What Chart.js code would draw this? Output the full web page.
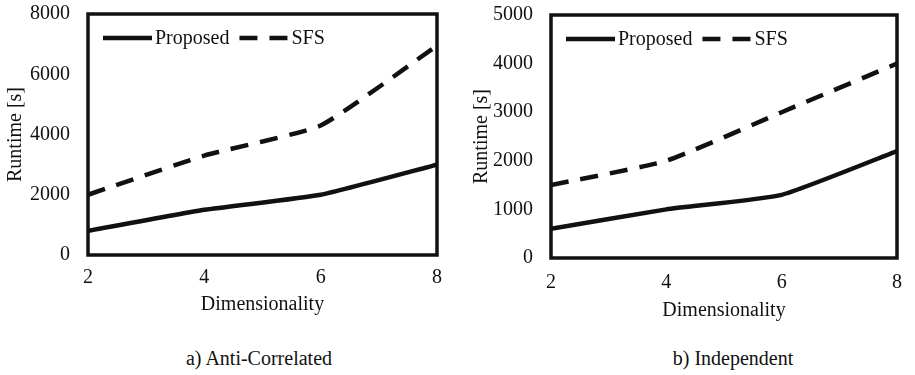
<!DOCTYPE html>
<html>
<head>
<meta charset="utf-8">
<script src="https://cdn.jsdelivr.net/npm/chart.js@4"></script>
<style>
html,body{margin:0;padding:0;background:#fff;width:915px;height:375px;overflow:hidden;}
canvas{position:absolute;top:0;}
.cap{position:absolute;font-family:'Liberation Serif',serif;font-size:20px;color:#111;white-space:nowrap;transform:translate(-50%,-50%);}
</style>
</head>
<body>
<canvas id="c1" width="458" height="321" style="left:0px"></canvas>
<canvas id="c2" width="449" height="327" style="left:466px"></canvas>
<div class="cap" style="left:259px;top:358px">a) Anti-Correlated</div>
<div class="cap" style="left:733px;top:358px">b) Independent</div>
<script>
const dims = [2, 4, 6, 8];
const antiProposed = [800, 1500, 2000, 3000];
const antiSFS = [2000, 3300, 4300, 6950];
const indepProposed = [600, 1000, 1300, 2200];
const indepSFS = [1500, 2000, 3000, 4000];
const seriesNames = ['Proposed', 'SFS'];
const xTitle = 'Dimensionality';
const yTitle = 'Runtime [s]';

const FONT = "'Liberation Serif', serif";
const FS = 20;
const TXT = '#111';

const boxPlugin = {
  id: 'box',
  afterDatasetsDraw(chart) {
    const a = chart.chartArea, ctx = chart.ctx;
    ctx.save();
    ctx.strokeStyle = '#111';
    ctx.lineWidth = 3.5;
    ctx.setLineDash([]);
    ctx.strokeRect(a.left, a.top, a.right - a.left, a.bottom - a.top);
    // inner legend, horizontal, drawn from the datasets
    const y = a.top + 24;
    let x = a.left + 15;
    ctx.font = FS + 'px ' + FONT;
    ctx.textBaseline = 'middle';
    ctx.textAlign = 'left';
    chart.data.datasets.forEach(ds => {
      ctx.strokeStyle = ds.borderColor;
      ctx.lineWidth = ds.borderWidth;
      ctx.setLineDash(ds.borderDash || []);
      ctx.beginPath();
      ctx.moveTo(x, y);
      ctx.lineTo(x + 49, y);
      ctx.stroke();
      x += 52;
      ctx.fillStyle = TXT;
      ctx.fillText(ds.label, x, y + 1);
      x += ctx.measureText(ds.label).width + 10;
    });
    ctx.restore();
  }
};

function pts(vals) { return dims.map((d, i) => ({x: d, y: vals[i]})); }

function makeChart(id, prop, sfs, yMax, yStep, pad, yW, xH, xPad) {
  return new Chart(document.getElementById(id), {
    type: 'line',
    data: {
      datasets: [
        {label: seriesNames[0], data: pts(prop), borderColor: '#111', backgroundColor: '#111', borderWidth: 4.5, pointRadius: 0, tension: 0.15, fill: false},
        {label: seriesNames[1], data: pts(sfs), borderColor: '#111', backgroundColor: '#111', borderWidth: 4.5, borderDash: [18, 12], pointRadius: 0, tension: 0.15, fill: false}
      ]
    },
    options: {
      responsive: false,
      animation: false,
      devicePixelRatio: 1,
      layout: {padding: pad},
      plugins: {
        tooltip: {enabled: false},
        legend: {display: false}
      },
      scales: {
        x: {
          type: 'linear', min: 2, max: 8,
          grid: {display: false, drawTicks: false},
          border: {display: false},
          ticks: {stepSize: 2, padding: xPad, color: TXT, font: {family: FONT, size: FS}},
          title: {display: true, text: xTitle, color: TXT, font: {family: FONT, size: FS}},
          afterFit(s) { s.height = xH; }
        },
        y: {
          min: 0, max: yMax,
          grid: {display: false, drawTicks: false},
          border: {display: false},
          ticks: {stepSize: yStep, padding: 18, color: TXT, font: {family: FONT, size: FS}, format: {useGrouping: false}},
          title: {display: true, text: yTitle, color: TXT, font: {family: FONT, size: FS}},
          afterFit(s) { s.width = yW; s.paddingTop = 0; s.paddingBottom = 0; }
        }
      }
    },
    plugins: [boxPlugin]
  });
}

makeChart('c1', antiProposed, antiSFS, 8000, 2000, {top: 14, right: 21, bottom: 0, left: 0}, 88, 66, 11);
makeChart('c2', indepProposed, indepSFS, 5000, 1000, {top: 15, right: 12, bottom: 0, left: 0}, 85, 69, 13);
</script>
</body>
</html>
